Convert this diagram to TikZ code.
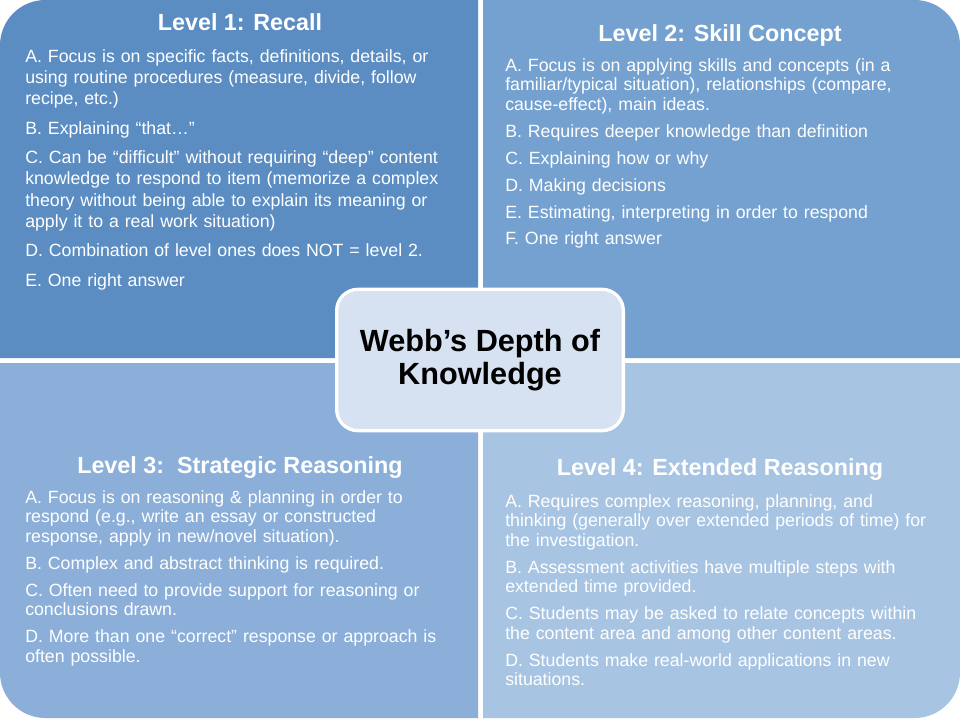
\documentclass[tikz,border=0pt]{standalone}
\usepackage{fontspec}
\setmainfont{Liberation Sans}
\definecolor{qa}{HTML}{5B8DC3}
\definecolor{qb}{HTML}{74A1D0}
\definecolor{qc}{HTML}{8BAFD9}
\definecolor{qd}{HTML}{A8C4E3}
\definecolor{cbox}{HTML}{D6E1F1}
\begin{document}
\begin{tikzpicture}[x=0.75pt,y=-0.75pt,
  head/.style={text=white,font=\bfseries\fontsize{17.5}{20}\selectfont,anchor=center},
  body/.style={text=white,font=\fontsize{13.3}{16}\selectfont,anchor=north west,align=left,inner sep=0pt,text width=360pt},
  bodyt/.style={body,font=\fontsize{13.3}{14.7}\selectfont}]
\useasboundingbox (0,0) rectangle (960,720);
\fill[white] (0,0) rectangle (960,720);
\fill[qa,rounded corners=34pt] (0,358) -- (0,0) -- (239,0) [sharp corners] -- (478,0) -- (478,358) -- cycle;
\fill[qb,rounded corners=34pt] (960,358) -- (960,0) -- (720,0) [sharp corners] -- (483,0) -- (483,358) -- cycle;
\fill[qc,rounded corners=34pt] (0,363) -- (0,718) -- (239,718) [sharp corners] -- (478,718) -- (478,363) -- cycle;
\fill[qd,rounded corners=34pt] (960,363) -- (960,718) -- (720,718) [sharp corners] -- (483,718) -- (483,363) -- cycle;
\node[head] (h1) at (240,22) {Level 1: Recall};
\node[body] (b1) at (25,49) {A. Focus is on specific facts, definitions, details, or\\ using routine procedures (measure, divide, follow\\ recipe, etc.)\\[6pt]
B. Explaining “that…”\\[6pt]
C. Can be “difficult” without requiring “deep” content\\ knowledge to respond to item (memorize a complex\\ theory without being able to explain its meaning or\\ apply it to a real work situation)\\[6pt]
D. Combination of level ones does NOT = level 2.\\[6pt]
E. One right answer};
\node[head] (h2) at (720,35) {Level 2: Skill Concept};
\node[bodyt] (b2) at (505,58) {A. Focus is on applying skills and concepts (in a\\ familiar/typical situation), relationships (compare,\\ cause-effect), main ideas.\\[5.5pt]
B. Requires deeper knowledge than definition\\[5.5pt]
C. Explaining how or why\\[5.5pt]
D. Making decisions\\[5.5pt]
E. Estimating, interpreting in order to respond\\[5.5pt]
F. One right answer};
\node[head] (h3) at (240,468) {Level 3:\ \ Strategic Reasoning};
\node[bodyt] (b3) at (25,490) {A. Focus is on reasoning \& planning in order to\\ respond (e.g., write an essay or constructed\\ response, apply in new/novel situation).\\[5.5pt]
B. Complex and abstract thinking is required.\\[5.5pt]
C. Often need to provide support for reasoning or\\ conclusions drawn.\\[5.5pt]
D. More than one “correct” response or approach is\\ often possible.};
\node[head] (h4) at (720,470) {Level 4: Extended Reasoning};
\node[bodyt] (b4) at (505,494) {A. Requires complex reasoning, planning, and\\ thinking (generally over extended periods of time) for\\ the investigation.\\[5.5pt]
B. Assessment activities have multiple steps with\\ extended time provided.\\[5.5pt]
C. Students may be asked to relate concepts within\\ the content area and among other content areas.\\[5.5pt]
D. Students make real-world applications in new\\ situations.};
\node[draw=white,line width=2.5pt,fill=cbox,rounded corners=16pt,minimum width=215pt,minimum height=106pt,align=center,font=\bfseries\fontsize{23}{25}\selectfont] (c) at (480,360) {Webb’s Depth of\\Knowledge};
\end{tikzpicture}
\end{document}
